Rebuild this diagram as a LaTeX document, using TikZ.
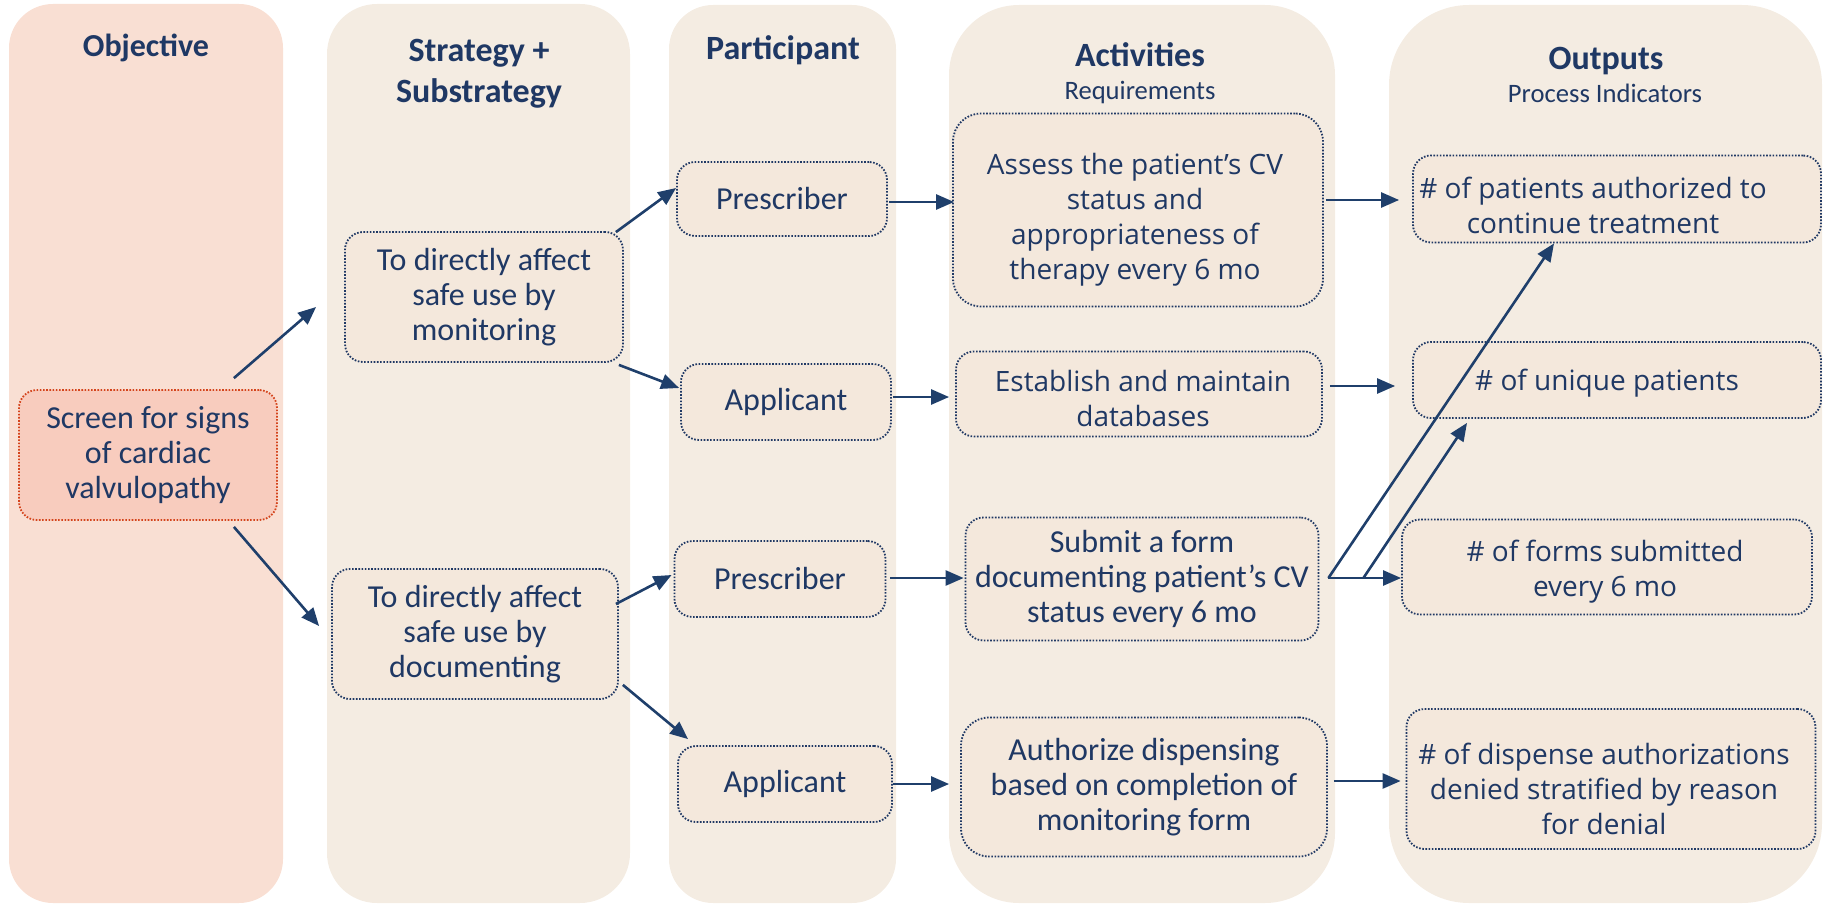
\documentclass[tikz,border=0pt]{standalone}
\usepackage{fontspec}
\setmainfont{Carlito}
\newfontfamily\osans{Open Sans}
\usetikzlibrary{calc,arrows.meta}
\definecolor{navy}{HTML}{1F3864}
\definecolor{arrowc}{HTML}{1F3F6B}
\definecolor{colobj}{HTML}{F9DFD3}
\definecolor{colbeige}{HTML}{F4ECE2}
\definecolor{boxobj}{HTML}{F8CCBE}
\definecolor{edgeobj}{HTML}{D4441C}
\definecolor{boxbeige}{HTML}{F4E8DC}
\begin{document}
\begin{tikzpicture}[x=0.5pt,y=-0.5pt,
  box/.style={draw=navy, line width=0.9pt, dash pattern=on 0.8pt off 0.8pt,
    fill=boxbeige, rounded corners=9pt, align=center, text=navy, inner sep=0pt,
    font=\fontsize{16}{17.5}\selectfont},
  objbox/.style={box, draw=edgeobj, fill=boxobj},
  segtext/.style={text=navy, align=center, inner sep=0pt, font=\osans\fontsize{14}{17.5}\selectfont},
  coltitle/.style={anchor=base, text=navy, font=\bfseries\fontsize{17}{20}\selectfont},
  colsub/.style={anchor=base, text=navy, font=\fontsize{13.3}{16}\selectfont},
  arr/.style={draw=arrowc, line width=1.3pt, -{Triangle[length=9pt,width=7.5pt]}},
]
\useasboundingbox (0,0) rectangle (1825,904);
% columns
\fill[colobj, rounded corners=22pt] (9,4) rectangle (283,903);
\fill[colbeige, rounded corners=25pt] (327,4) rectangle (630,903);
\fill[colbeige, rounded corners=22pt] (669,5) rectangle (896,903);
\fill[colbeige, rounded corners=35pt] (949,5) rectangle (1335,903);
\fill[colbeige, rounded corners=40pt] (1389,5) rectangle (1822,903);
% titles
\node[coltitle, font=\bfseries\fontsize{16}{20}\selectfont] (t-obj) at (146,57) {Objective};
\node[coltitle] (t-str1) at (479,62) {Strategy +};
\node[coltitle] (t-str2) at (479,103) {Substrategy};
\node[coltitle] (t-par) at (783,60) {Participant};
\node[coltitle] (t-act) at (1140,67) {Activities};
\node[colsub] (t-req) at (1140,100) {Requirements};
\node[coltitle] (t-out) at (1606,70) {Outputs};
\node[colsub] (t-pi) at (1605,103) {Process Indicators};
% nodes
\node[objbox, minimum width=129pt, minimum height=65pt] (obj) at (148,455) {Screen for signs\\of cardiac\\valvulopathy};
\node[box, minimum width=139pt, minimum height=65pt] (s1) at (484,297) {To directly affect\\safe use by\\monitoring};
\node[box, minimum width=143pt, minimum height=65pt] (s2) at (475,634) {To directly affect\\safe use by\\documenting};
\node[box, minimum width=105pt, minimum height=37pt] (p1) at (782,199) {Prescriber};
\node[box, minimum width=105pt, minimum height=38pt] (ap1) at (786,402) {Applicant};
\node[box, minimum width=105.5pt, minimum height=38pt] (p2) at (780,579) {Prescriber};
\node[box, minimum width=107pt, minimum height=38pt] (ap2) at (785,784) {Applicant};
\node[box, rounded corners=14pt, minimum width=185pt, minimum height=96.5pt] (a1) at (1138,210) {};
\node[segtext] (a1t) at ($(a1.center)+(-3,10)$) {Assess the patient’s CV\\status and\\appropriateness of\\therapy every 6 mo};
\node[box, minimum width=183pt, minimum height=42.5pt] (a2) at (1139,394) {};
\node[segtext] (a2t) at ($(a2.center)+(4,4)$) {Establish and maintain\\databases};
\node[box, minimum width=176.5pt, minimum height=61.5pt] (a3) at (1142,579) {Submit a form\\documenting patient’s CV\\status every 6 mo};
\node[box, rounded corners=14pt, minimum width=183pt, minimum height=69.5pt] (a4) at (1144,787) {Authorize dispensing\\based on completion of\\monitoring form};
\node[box, minimum width=204pt, minimum height=43.5pt] (o1) at (1617,199) {};
\node[segtext] (o1t) at ($(o1.center)+(-24,6)$) {\# of patients authorized to\\continue treatment};
\node[box, minimum width=204pt, minimum height=38pt] (o2) at (1617,380) {};
\node[segtext] (o2t) at ($(o2.center)+(-10,3)$) {\# of unique patients};
\node[box, minimum width=205pt, minimum height=47.5pt] (o3) at (1607,567) {};
\node[segtext] (o3t) at ($(o3.center)+(-2,5)$) {\# of forms submitted\\every 6 mo};
\node[box, minimum width=204.5pt, minimum height=70pt] (o4) at (1611,779) {};
\node[segtext] (o4t) at ($(o4.center)+(-7,10)$) {\# of dispense authorizations\\denied stratified by reason\\for denial};
% connectors
\draw[arr] ($(obj.north east)+(-44,-11)$) -- ($(s1.west)+(-28,10)$);
\draw[arr] ($(obj.south east)+(-44,6)$) -- ($(s2.west)+(-12,-8)$);
\draw[arr] ($(s1.north east)+(-8,1)$) -- ($(p1.west)+(0,-11)$);
\draw[arr] ($(s1.south east)+(-5,2)$) -- ($(ap1.west)+(-1,-14)$);
\draw[arr] ($(s2.east)+(-3,-30)$) -- ($(p2.west)+(-2,-4)$);
\draw[arr] ($(s2.south east)+(4,-15)$) -- ($(ap2.north west)+(11,-6)$);
\draw[arr] ($(p1.east)+(1,3)$) -- ($(a1.west)+(2,-8)$);
\draw[arr] ($(ap1.east)+(1,-5)$) -- ($(a2.west)+(-6,3)$);
\draw[arr] ($(p2.east)+(4,-1)$) -- ($(a3.west)+(-1,-1)$);
\draw[arr] ($(ap2.east)+(0,0)$) -- ($(a4.west)+(-11,-3)$);
\draw[arr] ($(a1.east)+(2,-10)$) -- ($(o1.west)+(-13,1)$);
\draw[arr] ($(a2.east)+(7,-8)$) -- ($(o2.west)+(-17,6)$);
\coordinate (j1) at ($(a3.east)+(9,-1)$);
\coordinate (j2) at ($(j1)+(35,0)$);
\draw[arr] (j1) -- ($(o3.west)+(0,11)$);
\draw[arr] (j1) -- ($(o1.south)+(-63,0)$);
\draw[arr] (j2) -- ($(o2.south)+(-150,4)$);
\draw[arr] ($(a4.east)+(6,-6)$) -- ($(o4.west)+(-5,2)$);
\end{tikzpicture}
\end{document}
